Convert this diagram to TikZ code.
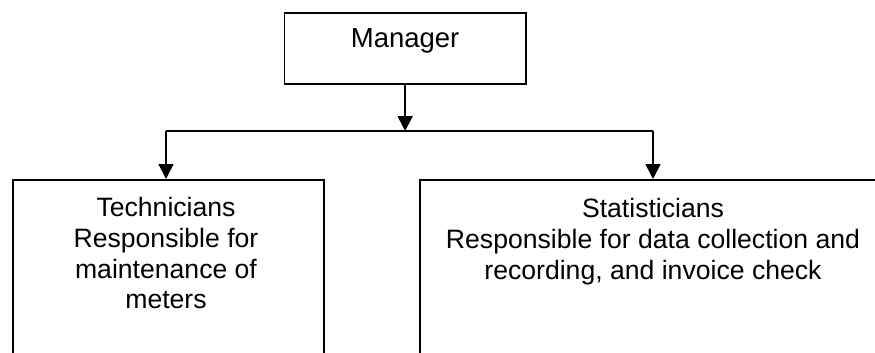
\documentclass[tikz,border=0pt]{standalone}
\usepackage{fontspec}
\setmainfont{Liberation Sans}
\usetikzlibrary{arrows.meta}
\begin{document}
\begin{tikzpicture}[x=1pt,y=-1pt,
  box/.style={draw, line width=1.8pt, inner sep=0pt, anchor=north west},
  txt/.style={inner sep=0pt, align=center, font=\fontsize{26.6}{30.8}\selectfont, anchor=north},
  arr/.style={line width=1.8pt, -{Triangle[width=15pt,length=15pt]}},
  ln/.style={line width=1.8pt}]
\useasboundingbox (0,0) rectangle (875,353);
\clip (0,0) rectangle (875,353);
\node[box, minimum width=241.5pt, minimum height=71pt, font=\fontsize{27.5}{30}\selectfont, text height=34.7pt, text depth=36.3pt] (mgr) at (283.5,12) {Manager};
\node[box, minimum width=311pt, minimum height=220pt] (tech) at (12,179) {};
\node[box, minimum width=468pt, minimum height=220pt] (stat) at (419,179) {};
\node[txt] (techtxt) at (166,197) {Technicians\\Responsible for\\maintenance of\\meters};
\node[txt] (stattxt) at (653,198.5) {Statisticians\\Responsible for data collection and\\recording, and invoice check};
\coordinate (j) at (mgr.south |- 0,131);
\coordinate (jl) at (166,131);
\coordinate (jr) at (653,131);
\draw[arr] (mgr.south) -- (j);
\draw[ln] (jl) -- (jr);
\draw[arr] (jl) -- (jl |- tech.north);
\draw[arr] (jr) -- (jr |- stat.north);
\end{tikzpicture}
\end{document}
